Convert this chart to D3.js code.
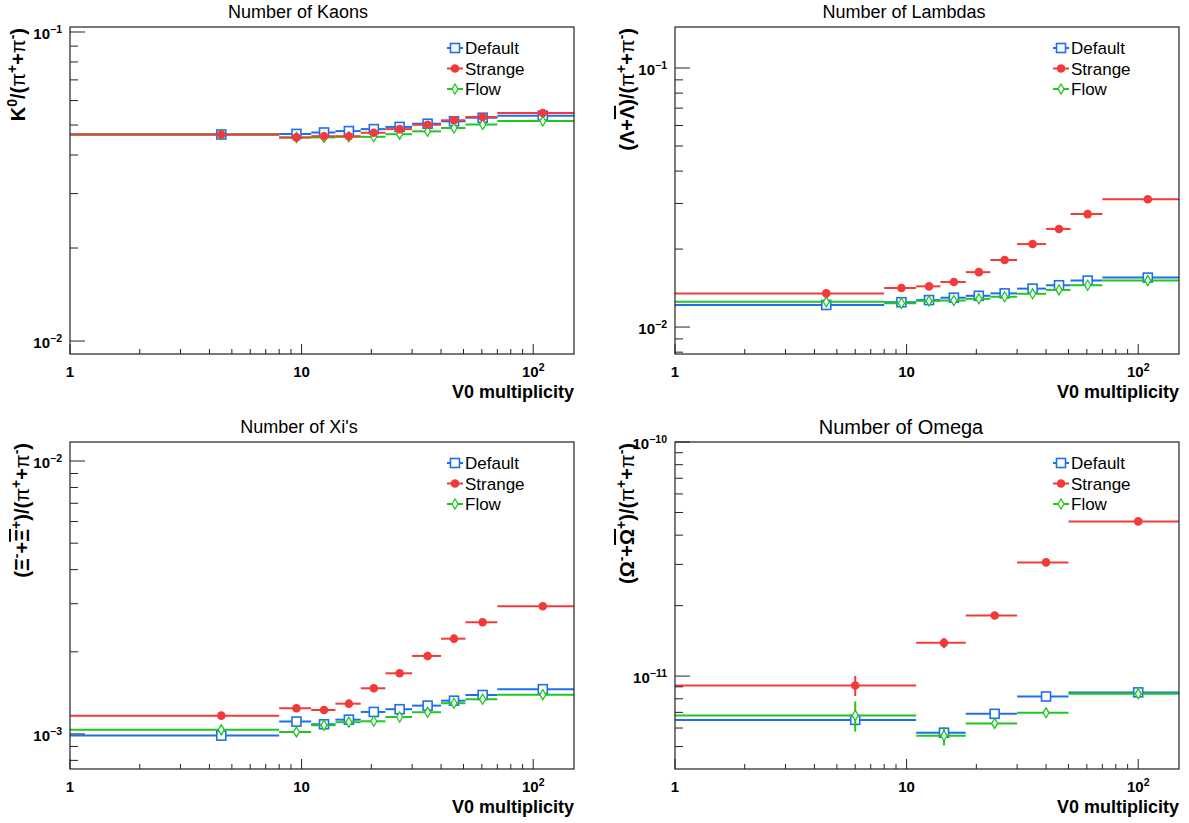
<!DOCTYPE html>
<html>
<head>
<meta charset="utf-8">
<script src="https://cdn.jsdelivr.net/npm/d3@7"></script>
<style>
  body { margin: 0; background: #fff; }
  svg { font-family: "Liberation Sans", Arial, sans-serif; }
</style>
</head>
<body>
<script>
// bin edges (V0 multiplicity)
var edges = [1, 8, 11, 14, 18, 23, 30, 40, 51, 70, 150];
var edgesOmega = [1, 11, 18, 30, 50, 150];

var seriesNames = ["Default", "Strange", "Flow"];

// K0/(pi+ + pi-)
var kaonDefault = [0.0466, 0.0468, 0.0473, 0.0478, 0.0485, 0.0493, 0.0505, 0.0514, 0.0528, 0.0536];
var kaonStrange = [0.0466, 0.0456, 0.0460, 0.0460, 0.0472, 0.0485, 0.0501, 0.0518, 0.0531, 0.0547];
var kaonFlow    = [0.0466, 0.0456, 0.0456, 0.0458, 0.0458, 0.0467, 0.0477, 0.0489, 0.0502, 0.0515];

// (Lambda + antiLambda)/(pi+ + pi-)
var lambdaDefault = [0.01217, 0.01247, 0.01271, 0.01298, 0.01320, 0.01349, 0.01407, 0.01450, 0.01511, 0.01552];
var lambdaStrange = [0.01349, 0.01415, 0.01436, 0.01493, 0.01629, 0.01815, 0.02091, 0.02392, 0.02729, 0.03113];
var lambdaFlow    = [0.01251, 0.01236, 0.01262, 0.01266, 0.01285, 0.01309, 0.01344, 0.01391, 0.01450, 0.01511];

// (Xi- + antiXi+)/(pi+ + pi-)
var xiDefault = [0.000986, 0.001110, 0.001085, 0.001128, 0.001204, 0.001232, 0.001270, 0.001324, 0.001389, 0.001459];
var xiStrange = [0.001167, 0.001242, 0.001224, 0.001291, 0.001470, 0.001668, 0.001931, 0.002234, 0.002566, 0.002937];
var xiFlow    = [0.001035, 0.001017, 0.001076, 0.001104, 0.001113, 0.001154, 0.001201, 0.001296, 0.001340, 0.001393];
var xiDefaultErr = [0.00002, 0.00001, 0.00001, 0.00001, 0.00001, 0.00001, 0.00001, 0.00001, 0.00001, 0.00001];
var xiStrangeErr = [0.00001, 0.00001, 0.00001, 0.00001, 0.00001, 0.00001, 0.00001, 0.00001, 0.00001, 0.00001];
var xiFlowErr    = [0.00004, 0.00001, 0.00001, 0.00001, 0.00001, 0.00001, 0.00001, 0.00001, 0.00001, 0.00001];

// (Omega- + antiOmega+)/(pi+ + pi-)
var omegaDefault = [6.50e-12, 5.73e-12, 6.90e-12, 8.18e-12, 8.52e-12];
var omegaStrange = [9.12e-12, 1.387e-11, 1.816e-11, 3.06e-11, 4.58e-11];
var omegaFlow    = [6.79e-12, 5.56e-12, 6.28e-12, 6.97e-12, 8.40e-12];
var omegaDefaultErr = [0.35e-12, 0.30e-12, 0.20e-12, 0.10e-12, 0.10e-12];
var omegaStrangeErr = [0.90e-12, 0.70e-12, 0.30e-12, 0.30e-12, 0.40e-12];
var omegaFlowErr    = [1.00e-12, 0.50e-12, 0.25e-12, 0.15e-12, 0.15e-12];

var colors = {Default: "#1f6fec", Strange: "#f23a3a", Flow: "#1ec81e"};

var svg = d3.select("body").append("svg")
    .attr("width", 1189)
    .attr("height", 823);

// text with super/subscripts, parts: [text, "sup"|"bar"|"sym"]
function rich(t, parts, size) {
    var cur = 0;
    parts.forEach(function(p) {
        var shift = p[1] == "sup" ? -0.42 * size : 0;
        var s = t.append("tspan").text(p[0])
            .attr("dy", shift - cur)
            .attr("font-size", p[1] == "sup" ? size * 0.7 : size);
        if (p[1] == "bar") s.style("text-decoration", "overline");
        if (p[1] == "sym") s.attr("font-weight", "normal");
        cur = shift;
    });
    return t;
}

var sup = function(s) { return [s, "sup"]; };
var pis = [["/(", ""], ["\u03c0", "sym"], sup("+"), ["+", ""], ["\u03c0", "sym"], sup("-"), [")", ""]];

var panels = [
    {title: "Number of Kaons", tx: 298, ty: 18, tsize: 18, x0: 70, x1: 574, y0: 27, y1: 354,
     ydom: [0.00908, 0.1038], bins: edges, lx: 455, ly: 48, ytx: 25,
     ylab: [["K", ""], sup("0")].concat(pis),
     data: [kaonDefault, kaonStrange, kaonFlow], err: null},
    {title: "Number of Lambdas", tx: 904, ty: 18, tsize: 18, x0: 675, x1: 1179, y0: 27, y1: 354,
     ydom: [0.00787, 0.1440], bins: edges, lx: 1061, ly: 48, ytx: 634,
     ylab: [["(\u039b+", ""], ["\u039b", "bar"], [")", ""]].concat(pis),
     data: [lambdaDefault, lambdaStrange, lambdaFlow], err: null},
    {title: "Number of Xi's", tx: 299, ty: 433, tsize: 18, x0: 70, x1: 574, y0: 442, y1: 769,
     ydom: [0.000744, 0.01174], bins: edges, lx: 455, ly: 463, ytx: 29,
     ylab: [["(\u039e", ""], sup("-"), ["+", ""], ["\u039e", "bar"], sup("+"), [")", ""]].concat(pis),
     data: [xiDefault, xiStrange, xiFlow], err: [xiDefaultErr, xiStrangeErr, xiFlowErr]},
    {title: "Number of Omega", tx: 901, ty: 434, tsize: 20, x0: 675, x1: 1179, y0: 442, y1: 769,
     ydom: [4.01e-12, 1e-10], bins: edgesOmega, lx: 1061, ly: 463, ytx: 634,
     ylab: [["(\u03a9", ""], sup("-"), ["+", ""], ["\u03a9", "bar"], sup("+"), [")", ""]].concat(pis),
     data: [omegaDefault, omegaStrange, omegaFlow], err: [omegaDefaultErr, omegaStrangeErr, omegaFlowErr]}
];

function marker(g, name, cx, cy) {
    if (name == "Default") {
        g.append("rect").attr("x", cx - 4.5).attr("y", cy - 4.5).attr("width", 9).attr("height", 9)
            .attr("fill", "#fff").attr("stroke", colors[name]).attr("stroke-width", 1.6);
    } else if (name == "Strange") {
        g.append("circle").attr("cx", cx).attr("cy", cy).attr("r", 4.3).attr("fill", colors[name]);
    } else {
        g.append("path")
            .attr("d", "M" + cx + "," + (cy - 5) + "L" + (cx + 3) + "," + cy + "L" + cx + "," + (cy + 5) + "L" + (cx - 3) + "," + cy + "Z")
            .attr("fill", "#fff").attr("stroke", colors[name]).attr("stroke-width", 1.3);
    }
}

panels.forEach(function(p) {
    var x = d3.scaleLog().domain([1, 150]).range([p.x0, p.x1]);
    var y = d3.scaleLog().domain(p.ydom).range([p.y1, p.y0]);
    var g = svg.append("g");

    // title
    g.append("text").attr("x", p.tx).attr("y", p.ty).attr("text-anchor", "middle")
        .attr("font-size", p.tsize).text(p.title);

    // series, drawn Default, Flow, Strange
    [0, 2, 1].forEach(function(si) {
        var name = seriesNames[si];
        var vals = p.data[si];
        var sg = g.append("g");
        vals.forEach(function(v, i) {
            var lo = p.bins[i], hi = p.bins[i + 1];
            var xc = (lo + hi) / 2;
            sg.append("line").attr("x1", x(lo)).attr("x2", x(hi)).attr("y1", y(v)).attr("y2", y(v))
                .attr("stroke", colors[name]).attr("stroke-width", 2);
            if (p.err) {
                var e = p.err[si][i];
                sg.append("line").attr("x1", x(xc)).attr("x2", x(xc)).attr("y1", y(v - e)).attr("y2", y(v + e))
                    .attr("stroke", colors[name]).attr("stroke-width", 2);
            }
            marker(sg, name, x(xc), y(v));
        });
    });

    // frame
    g.append("rect").attr("x", p.x0).attr("y", p.y0).attr("width", p.x1 - p.x0).attr("height", p.y1 - p.y0)
        .attr("fill", "none").attr("stroke", "#222").attr("stroke-width", 1.2);

    // x ticks
    var xt = [];
    for (var k = 0; k <= 2; k++) for (var m = 1; m <= 9; m++) {
        var v = m * Math.pow(10, k);
        if (v >= 1 && v <= 150) xt.push(v);
    }
    xt.forEach(function(v) {
        var major = Math.abs(Math.log10(v) % 1) < 1e-9;
        g.append("line").attr("x1", x(v)).attr("x2", x(v)).attr("y1", p.y1).attr("y2", p.y1 - (major ? 10 : 5))
            .attr("stroke", "#222");
    });
    [1, 10, 100].forEach(function(v, i) {
        var t = g.append("text").attr("x", x(v)).attr("y", p.y1 + 23).attr("text-anchor", "middle")
            .attr("font-size", 15).attr("font-weight", "bold");
        if (i < 2) t.text(v);
        else rich(t, [["10", ""], sup("2")], 15);
    });
    g.append("text").attr("x", p.x1).attr("y", p.y1 + 44).attr("text-anchor", "end")
        .attr("font-size", 18).attr("font-weight", "bold").text("V0 multiplicity");

    // y ticks
    var e0 = Math.floor(Math.log10(p.ydom[0])), e1 = Math.ceil(Math.log10(p.ydom[1]));
    for (var e = e0; e <= e1; e++) {
        for (var m2 = 1; m2 <= 9; m2++) {
            var yv = m2 * Math.pow(10, e);
            if (yv < p.ydom[0] || yv > p.ydom[1] * 1.0001) continue;
            g.append("line").attr("x1", p.x0).attr("x2", p.x0 + (m2 == 1 ? 15 : 8))
                .attr("y1", y(yv)).attr("y2", y(yv)).attr("stroke", "#222");
            if (m2 == 1) {
                var lt = g.append("text").attr("x", p.x0 - 8).attr("y", y(yv) + 7).attr("text-anchor", "end")
                    .attr("font-size", 15).attr("font-weight", "bold");
                rich(lt, [["10", ""], sup("\u2212" + (-e))], 15);
            }
        }
    }

    // y title
    var yt = g.append("text").attr("transform", "translate(" + p.ytx + "," + (p.y0 + 1) + ") rotate(-90)")
        .attr("text-anchor", "end").attr("font-size", 20).attr("font-weight", "bold");
    rich(yt, p.ylab, 20);

    // legend
    seriesNames.forEach(function(name, i) {
        var ly = p.ly + i * 20.5;
        g.append("line").attr("x1", p.lx - 8).attr("x2", p.lx + 8).attr("y1", ly).attr("y2", ly)
            .attr("stroke", colors[name]).attr("stroke-width", 2);
        marker(g, name, p.lx, ly);
        g.append("text").attr("x", p.lx + 10).attr("y", ly + 6).attr("font-size", 17).text(name);
    });
});
</script>
</body>
</html>
